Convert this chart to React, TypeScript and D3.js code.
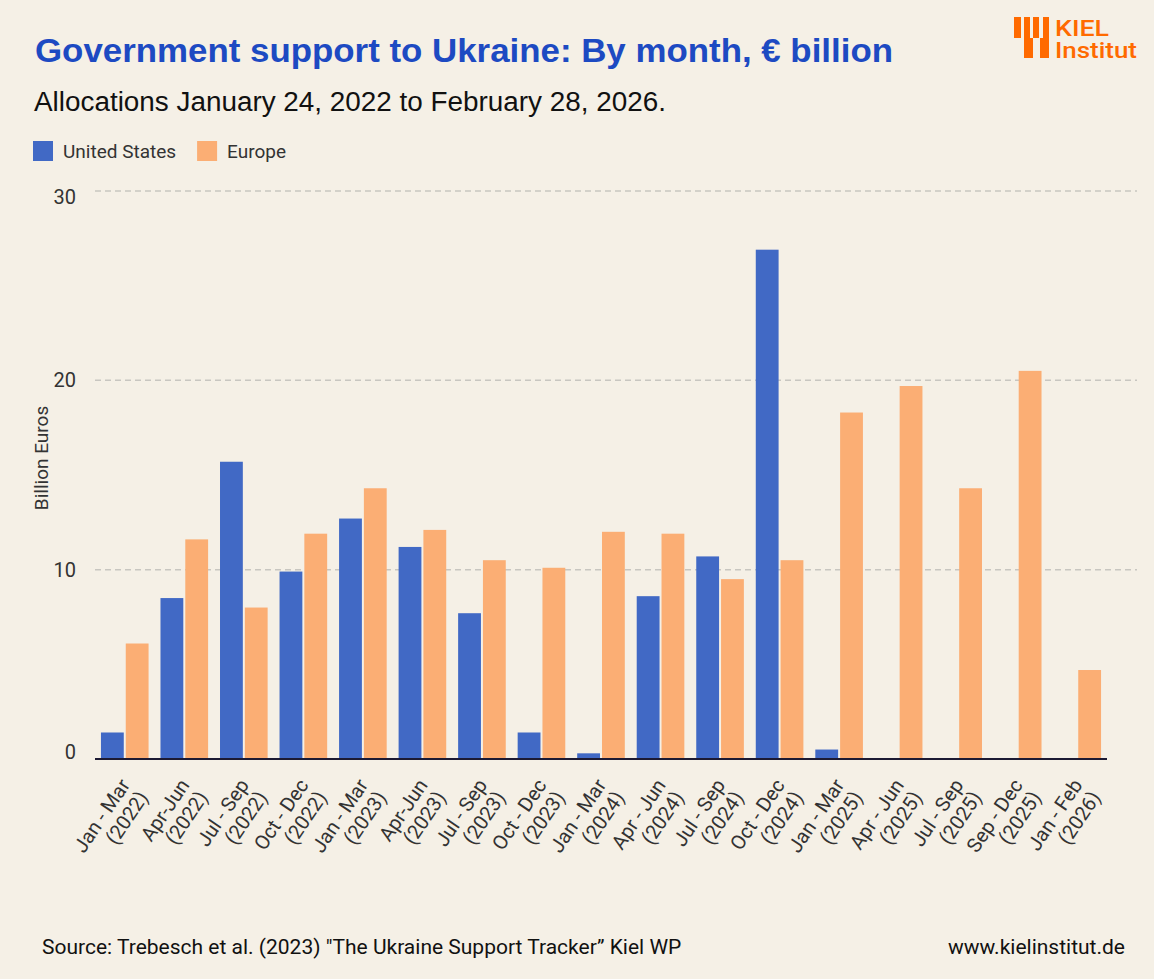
import { useEffect, useRef } from 'react';
import * as d3 from 'd3';

// Quarterly allocations, € billion
const periods = [
  'Jan - Mar|(2022)', 'Apr-Jun|(2022)', 'Jul - Sep|(2022)', 'Oct - Dec|(2022)',
  'Jan - Mar|(2023)', 'Apr-Jun|(2023)', 'Jul - Sep|(2023)', 'Oct - Dec|(2023)',
  'Jan - Mar|(2024)', 'Apr - Jun|(2024)', 'Jul - Sep|(2024)', 'Oct - Dec|(2024)',
  'Jan - Mar|(2025)', 'Apr - Jun|(2025)', 'Jul - Sep|(2025)', 'Sep - Dec|(2025)',
  'Jan - Feb|(2026)',
];
const unitedStates = [1.4, 8.5, 15.7, 9.9, 12.7, 11.2, 7.7, 1.4, 0.3, 8.6, 10.7, 26.9, 0.5, 0, 0, 0, 0];
const europe = [6.1, 11.6, 8.0, 11.9, 14.3, 12.1, 10.5, 10.1, 12.0, 11.9, 9.5, 10.5, 18.3, 19.7, 14.3, 20.5, 4.7];
const yTicks = [0, 10, 20, 30];

const seriesNames = ['United States', 'Europe'];
const colors = { 'United States': '#4169c5', Europe: '#fbae74' };

const W = 1154;
const H = 979;
const BG = '#f5f0e6';

export default function App() {
  const ref = useRef<SVGSVGElement>(null);

  useEffect(() => {
    const svg = d3.select(ref.current);
    svg.selectAll('*').remove();

    svg.append('rect').attr('width', W).attr('height', H).attr('fill', BG);

    const plot = { left: 95, right: 1107, top: 191, bottom: 759 };

    const x0 = d3.scaleBand<string>()
      .domain(periods)
      .range([plot.left, plot.right])
      .paddingInner(0.2)
      .paddingOuter(0.1);
    const x1 = d3.scaleBand<string>()
      .domain(seriesNames)
      .range([0, x0.bandwidth()])
      .paddingInner(0.08);
    const y = d3.scaleLinear().domain([0, 30]).range([plot.bottom, plot.top]);

    // title block
    svg.append('text')
      .attr('x', 35).attr('y', 62)
      .attr('font-family', 'Liberation Sans, Arial, sans-serif')
      .attr('font-weight', 'bold')
      .attr('font-size', 34)
      .attr('textLength', 858)
      .attr('lengthAdjust', 'spacingAndGlyphs')
      .attr('fill', '#1d4ac2')
      .text('Government support to Ukraine: By month, € billion');
    svg.append('text')
      .attr('x', 34).attr('y', 111)
      .attr('font-family', 'Liberation Sans, Arial, sans-serif')
      .attr('font-size', 27)
      .attr('textLength', 632)
      .attr('lengthAdjust', 'spacingAndGlyphs')
      .attr('fill', '#111')
      .text('Allocations January 24, 2022 to February 28, 2026.');

    // logo
    const logo = svg.append('g').attr('fill', '#ff6a00');
    [[1014, 17, 7, 21], [1024, 17, 6, 21], [1033, 17, 6, 21], [1043, 17, 6, 21],
      [1024, 38, 9, 20], [1040, 38, 9, 20]].forEach(([lx, ly, lw, lh]) => {
      logo.append('rect').attr('x', lx).attr('y', ly).attr('width', lw).attr('height', lh);
    });
    logo.append('text')
      .attr('x', 1055).attr('y', 36)
      .attr('font-family', 'Roboto, sans-serif')
      .attr('font-weight', 500)
      .attr('font-size', 22)
      .attr('textLength', 54)
      .attr('lengthAdjust', 'spacingAndGlyphs')
      .text('KIEL');
    logo.append('text')
      .attr('x', 1055).attr('y', 58)
      .attr('font-family', 'Roboto, sans-serif')
      .attr('font-weight', 500)
      .attr('font-size', 22)
      .attr('textLength', 82)
      .attr('lengthAdjust', 'spacingAndGlyphs')
      .text('Institut');

    // legend
    const legend = svg.append('g');
    let lx = 33;
    seriesNames.forEach(name => {
      legend.append('rect')
        .attr('x', lx).attr('y', 141).attr('width', 20).attr('height', 20)
        .attr('fill', colors[name]);
      const t = legend.append('text')
        .attr('x', lx + 30).attr('y', 158)
        .attr('font-family', 'Roboto, sans-serif')
        .attr('font-size', 19)
        .attr('fill', '#333')
        .text(name);
      lx += 30 + (t.node() as SVGTextElement).getComputedTextLength() + 21;
    });

    // gridlines and y ticks
    const grid = svg.append('g');
    yTicks.forEach(v => {
      if (v > 0) {
        grid.append('line')
          .attr('x1', plot.left).attr('x2', 1137)
          .attr('y1', y(v)).attr('y2', y(v))
          .attr('stroke', '#c8c6c0')
          .attr('stroke-width', 1.5)
          .attr('stroke-dasharray', '6,4');
      }
      grid.append('text')
        .attr('x', 76)
        .attr('y', Math.min(Math.max(y(v), plot.top + 6), plot.bottom - 7))
        .attr('dy', '0.35em')
        .attr('text-anchor', 'end')
        .attr('font-family', 'Roboto, sans-serif')
        .attr('font-size', 20)
        .attr('fill', '#333')
        .text(v);
    });

    svg.append('text')
      .attr('transform', `translate(48,${458}) rotate(-90)`)
      .attr('text-anchor', 'middle')
      .attr('font-family', 'Roboto, sans-serif')
      .attr('font-size', 19)
      .attr('fill', '#333')
      .text('Billion Euros');

    // bars
    const rows = periods.map((p, i) => ({ period: p, values: [unitedStates[i], europe[i]] }));
    const groups = svg.append('g')
      .selectAll('g')
      .data(rows)
      .join('g')
      .attr('transform', d => `translate(${x0(d.period)},0)`);
    groups.selectAll('rect')
      .data(d => d.values.map((v, k) => ({ key: seriesNames[k], value: v })))
      .join('rect')
      .filter(d => d.value > 0)
      .attr('x', d => x1(d.key))
      .attr('y', d => y(d.value))
      .attr('width', x1.bandwidth())
      .attr('height', d => y(0) - y(d.value))
      .attr('fill', d => colors[d.key]);

    // baseline
    svg.append('line')
      .attr('x1', plot.left).attr('x2', plot.right)
      .attr('y1', plot.bottom).attr('y2', plot.bottom)
      .attr('stroke', '#1c1a33')
      .attr('stroke-width', 2);

    // x labels, two lines each, rotated
    const xl = svg.append('g');
    periods.forEach(p => {
      const [l1, l2] = p.split('|');
      const cx = x0(p) + x0.bandwidth() / 2;
      const t = xl.append('text')
        .attr('transform', `translate(${cx + 6},${785}) rotate(-56)`)
        .attr('text-anchor', 'end')
        .attr('font-family', 'Roboto, sans-serif')
        .attr('font-size', 20)
        .attr('fill', '#333');
      t.append('tspan').attr('x', 0).attr('dy', 0).text(l1);
      t.append('tspan').attr('x', 0).attr('dy', 22).text(l2);
    });

    // footer
    svg.append('text')
      .attr('x', 42).attr('y', 954)
      .attr('font-family', 'Roboto, sans-serif')
      .attr('font-size', 21)
      .attr('fill', '#111')
      .text('Source: Trebesch et al. (2023) "The Ukraine Support Tracker\u201d Kiel WP');
    svg.append('text')
      .attr('x', 1125).attr('y', 954)
      .attr('text-anchor', 'end')
      .attr('font-family', 'Roboto, sans-serif')
      .attr('font-size', 21)
      .attr('fill', '#111')
      .text('www.kielinstitut.de');
  }, []);

  return (
    <svg
      ref={ref}
      width={W}
      height={H}
      style={{ position: 'absolute', left: 0, top: 0, display: 'block' }}
    />
  );
}
